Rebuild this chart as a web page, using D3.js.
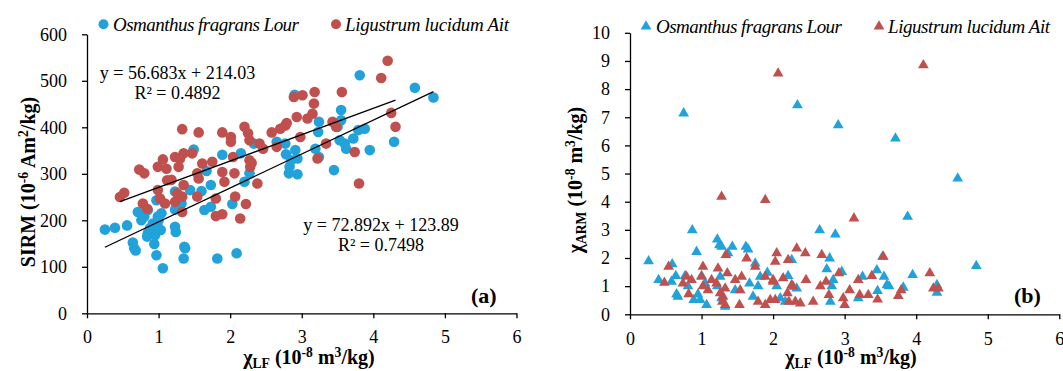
<!DOCTYPE html>
<html><head><meta charset="utf-8">
<script src="https://cdn.jsdelivr.net/npm/d3@7"></script>
<style>
body{margin:0;background:#fff}
svg{display:block}
text{font-family:"Liberation Serif","Times New Roman",serif;fill:#000}
</style>
</head><body>
<svg id="chart" width="1063" height="371"></svg>
<script>
// ---------- data ----------
const seriesNames = ["Osmanthus fragrans Lour", "Ligustrum lucidum Ait"];
const seriesColors = ["#21a2db", "#c0504d"];
const xTicks = [0, 1, 2, 3, 4, 5, 6];
const yTicksA = [0, 100, 200, 300, 400, 500, 600];
const yTicksB = [0, 1, 2, 3, 4, 5, 6, 7, 8, 9, 10];

// Panel (a): chiLF vs SIRM
const osmA_x = [0.25,0.39,0.56,0.64,0.66,0.68,0.71,0.76,0.80,0.85,0.84,0.90,0.92,0.95,0.94,0.97,0.97,0.99,1.03,1.04,1.06,0.99,1.23,1.24,1.23,1.32,1.36,1.35,1.37,1.44,1.49,1.60,1.67,1.64,1.73,1.73,1.82,1.89,2.03,2.09,2.15,2.20,2.27,2.33,2.65,2.77,2.78,2.82,2.83,2.85,2.90,2.91,2.94,2.94,3.19,3.24,3.23,3.24,3.45,3.50,3.55,3.55,3.53,3.60,3.62,3.72,3.79,3.81,3.88,3.95,4.29,4.58,4.84,1.23,0.88,0.85,1.00];
const osmA_y = [180,184,189,152,140,135,218,200,208,172,165,179,193,168,149,125,243,186,179,215,97,208,186,175,223,236,143,118,140,265,352,263,306,222,276,229,118,341,235,129,344,283,301,365,369,365,342,301,315,329,470,351,333,299,354,412,390,336,308,401,437,415,372,365,354,376,394,512,397,351,369,485,464,262,183,222,200];
const ligA_x = [0.46,0.52,0.73,0.80,0.78,0.84,0.99,1.06,1.11,0.99,1.02,1.09,1.12,1.23,1.28,1.30,1.33,1.35,1.35,1.33,1.33,1.26,1.23,1.47,1.54,1.56,1.56,1.54,1.61,1.75,1.80,1.80,1.89,1.89,1.89,1.92,2.01,2.01,2.04,2.06,2.07,2.14,2.20,2.25,2.27,2.27,2.28,2.22,2.38,2.41,2.46,2.58,2.65,2.70,2.77,2.79,2.89,2.93,3.01,2.98,3.08,3.15,3.17,3.18,3.22,3.34,3.43,3.48,3.56,3.74,3.80,4.11,4.20,4.25,4.31,1.18,2.30];
const ligA_y = [250,259,309,301,236,225,315,331,311,265,247,236,286,336,315,333,396,344,276,251,218,258,240,344,301,290,389,251,322,326,247,209,213,304,389,283,379,369,336,301,251,204,401,387,372,329,315,235,279,365,354,389,358,397,404,409,465,422,469,379,419,429,451,476,333,365,412,401,476,347,279,506,543,431,401,287,323];

// Panel (b): chiLF vs chiARM
const osmB_x = [0.26,0.40,0.59,0.58,0.64,0.65,0.67,0.75,0.77,0.81,0.87,0.89,0.93,0.95,0.98,1.00,1.07,1.05,1.22,1.25,1.28,1.22,1.26,1.28,1.33,1.37,1.43,1.47,1.62,1.65,1.67,1.72,1.75,1.79,1.82,1.92,2.05,2.10,2.17,2.21,2.26,2.33,2.34,2.65,2.75,2.79,2.84,2.82,2.80,2.87,2.91,2.96,3.19,3.25,3.45,3.46,3.53,3.55,3.59,3.62,3.71,3.82,3.88,3.95,4.29,4.29,4.58,4.84];
const osmB_y = [1.89,1.22,1.78,1.16,1.36,0.71,0.63,7.14,1.36,1.00,2.99,0.51,2.22,0.71,0.51,1.36,0.33,1.10,2.66,2.46,2.40,1.00,1.34,0.57,0.27,2.17,2.40,0.86,2.40,2.31,1.10,0.63,1.81,1.00,1.34,1.48,1.00,0.57,0.45,1.36,1.93,0.92,7.43,2.99,1.60,1.99,1.22,1.00,0.45,2.84,6.72,1.51,0.57,1.34,1.57,0.83,2.05,1.34,1.04,1.00,6.25,0.95,3.47,1.40,0.77,1.04,4.83,1.72];
const ligB_x = [0.48,0.54,0.74,0.79,0.82,0.86,1.02,1.00,1.02,1.09,1.14,1.21,1.23,1.28,1.26,1.29,1.33,1.33,1.34,1.36,1.47,1.53,1.54,1.56,1.63,1.75,1.79,1.89,1.89,1.89,1.96,2.00,2.03,2.05,2.03,2.07,2.14,2.20,2.21,2.28,2.31,2.33,2.38,2.45,2.46,2.56,2.66,2.68,2.74,2.78,2.92,2.98,3.00,3.07,3.13,3.19,3.21,3.38,3.33,3.46,3.54,3.75,3.79,4.10,4.19,4.24,4.31,1.30,2.22,2.00,2.26];
const ligB_y = [1.12,1.69,1.10,1.34,0.72,1.22,1.69,1.34,1.00,0.86,1.22,1.10,1.63,4.18,0.75,0.45,0.33,0.92,2.11,1.46,1.22,0.33,0.86,1.34,1.99,1.69,0.45,4.06,1.34,0.33,0.51,1.22,1.87,2.17,0.51,8.56,1.28,0.75,1.93,0.98,0.45,2.34,0.39,2.17,1.22,0.45,1.00,2.11,1.16,0.69,1.46,0.57,0.33,0.86,3.41,1.22,0.69,1.36,0.69,0.53,2.05,0.65,0.86,8.85,1.46,0.92,0.92,0.63,0.45,1.16,1.04];

// Linear fits shown in panel (a): [Osmanthus, Ligustrum]
const fitSlopes = [72.892, 56.683];
const fitIntercepts = [123.89, 214.03];
const fitR2 = ["0.7498", "0.4892"];

// ---------- drawing ----------
const svg = d3.select("#chart");
const FONT = '"Liberation Serif","Times New Roman",serif';

function richText(sel, parts, fsize) {
  let off = 0;
  parts.forEach(([t, type]) => {
    const target = type === "sup" ? -0.34 : type === "sub" ? 0.22 : 0;
    const ts = sel.append("tspan").text(t);
    if (type !== "n") ts.style("font-size", (0.68 * fsize) + "px");
    const dyEm = target - off;
    if (dyEm !== 0) ts.attr("dy", (dyEm * fsize).toFixed(2));
    off = target;
  });
}

function styleAxis(g) {
  g.attr("font-family", null);
  g.selectAll("path.domain").attr("stroke", "#000").attr("stroke-width", 1.3);
  g.selectAll(".tick line").attr("stroke", "#000").attr("stroke-width", 1.3);
  g.selectAll(".tick text").style("font-family", FONT).style("font-size", "18px").attr("fill", "#000");
}

function panel(cfg) {
  const x = d3.scaleLinear().domain([0, 6]).range([cfg.x0, cfg.x1]);
  const y = d3.scaleLinear().domain(cfg.yDomain).range([cfg.y0, cfg.y1]);
  const g = svg.append("g");

  g.append("g").attr("transform", `translate(0,${cfg.y0})`)
    .call(d3.axisBottom(x).tickValues(xTicks).tickFormat(d3.format("d")).tickSize(5).tickSizeOuter(0).tickPadding(cfg.xPad))
    .call(styleAxis);
  g.append("g").attr("transform", `translate(${cfg.x0},0)`)
    .call(d3.axisLeft(y).tickValues(cfg.yTicks).tickFormat(d3.format("d")).tickSize(5).tickSizeOuter(0).tickPadding(15))
    .call(styleAxis);

  cfg.series.forEach((s, i) => {
    const pts = s.x.map((v, k) => [v, s.y[k]]);
    if (cfg.marker === "circle") {
      g.append("g").selectAll("circle").data(pts).join("circle")
        .attr("cx", d => x(d[0])).attr("cy", d => y(d[1])).attr("r", 5.3)
        .attr("fill", seriesColors[i]);
    } else {
      const sym = d3.symbol().type(d3.symbolTriangle).size(50);
      g.append("g").selectAll("path").data(pts).join("path")
        .attr("d", sym).attr("transform", d => `translate(${x(d[0])},${y(d[1])})`)
        .attr("fill", seriesColors[i]);
    }
  });

  cfg.legend.forEach((L, i) => {
    if (cfg.marker === "circle") {
      svg.append("circle").attr("cx", L.mx).attr("cy", L.my).attr("r", 5).attr("fill", seriesColors[i]);
    } else {
      svg.append("path").attr("d", d3.symbol().type(d3.symbolTriangle).size(50)())
        .attr("transform", `translate(${L.mx},${L.my})`).attr("fill", seriesColors[i]);
    }
    svg.append("text").attr("x", L.tx).attr("y", L.ty).style("font-size", "19px")
      .attr("font-style", "italic")
      .attr("textLength", L.w).attr("lengthAdjust", "spacing")
      .text(seriesNames[i]);
  });

  const xt = svg.append("text").attr("x", cfg.xtX).attr("y", cfg.xtY).attr("text-anchor", "middle")
    .style("font-size", "20px").attr("font-weight", "bold");
  richText(xt, [["χ", "n"], ["LF", "sub"], [" (10", "n"], ["-8", "sup"], [" m", "n"], ["3", "sup"], ["/kg)", "n"]], 20);
  const yt = svg.append("text").attr("transform", `translate(${cfg.ytX},${cfg.ytY}) rotate(-90)`)
    .attr("text-anchor", "middle").style("font-size", "20px").attr("font-weight", "bold");
  richText(yt, cfg.yTitle, 20);

  svg.append("text").attr("x", cfg.tagX).attr("y", cfg.tagY).style("font-size", "22px")
    .attr("font-weight", "bold").text(cfg.tag);
  return {x, y, g};
}

const A = panel({
  x0: 87, x1: 516.5, y0: 313.3, y1: 34.3, yDomain: [0, 600], yTicks: yTicksA, xPad: 12,
  marker: "circle",
  series: [{x: osmA_x, y: osmA_y}, {x: ligA_x, y: ligA_y}],
  legend: [{mx: 103.5, my: 24.3, tx: 113, ty: 31, w: 186}, {mx: 336, my: 24.3, tx: 345, ty: 31, w: 164}],
  xtX: 309, xtY: 364, ytX: 35, ytY: 182,
  yTitle: [["SIRM (10", "n"], ["-6", "sup"], [" Am", "n"], ["2", "sup"], ["/kg)", "n"]],
  tag: "(a)", tagX: 471, tagY: 303
});

const seriesXs = [osmA_x, ligA_x];
fitSlopes.forEach((m, i) => {
  const [lo, hi] = d3.extent(seriesXs[i]);
  A.g.append("line")
    .attr("x1", A.x(lo)).attr("y1", A.y(m * lo + fitIntercepts[i]))
    .attr("x2", A.x(hi)).attr("y2", A.y(m * hi + fitIntercepts[i]))
    .attr("stroke", "#000").attr("stroke-width", 1.3);
});
const eqPos = [{x: 381, y1: 231, y2: 251}, {x: 177.5, y1: 79.3, y2: 99.3}];
fitSlopes.forEach((m, i) => {
  const p = eqPos[i];
  svg.append("text").attr("x", p.x).attr("y", p.y1).attr("text-anchor", "middle").style("font-size", "18px")
    .text(`y = ${m}x + ${fitIntercepts[i]}`);
  svg.append("text").attr("x", p.x).attr("y", p.y2).attr("text-anchor", "middle").style("font-size", "18px")
    .text(`R² = ${fitR2[i]}`);
});

panel({
  x0: 630, x1: 1059.3, y0: 314.3, y1: 32.8, yDomain: [0, 10], yTicks: yTicksB, xPad: 13,
  marker: "triangle",
  series: [{x: osmB_x, y: osmB_y}, {x: ligB_x, y: ligB_y}],
  legend: [{mx: 646, my: 26.5, tx: 656, ty: 32.5, w: 186}, {mx: 879, my: 26.5, tx: 888, ty: 32.5, w: 162}],
  xtX: 851, xtY: 364, ytX: 582, ytY: 180,
  yTitle: [["χ", "n"], ["ARM", "sub"], [" (10", "n"], ["-8", "sup"], [" m", "n"], ["3", "sup"], ["/kg)", "n"]],
  tag: "(b)", tagX: 1014, tagY: 303
});
</script>
</body></html>
